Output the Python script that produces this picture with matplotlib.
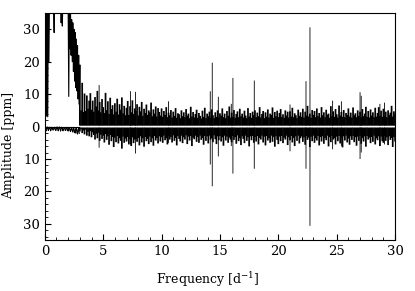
"""Amplitude spectrum with the mirrored residual spectrum below."""
import numpy as np
import matplotlib
matplotlib.use("Agg")
import matplotlib.pyplot as plt
from matplotlib.ticker import MultipleLocator, FuncFormatter

plt.rcParams['font.family'] = ['DejaVu Serif']
plt.rcParams['mathtext.fontset'] = 'dejavuserif'
plt.rcParams['font.size'] = 9.5

# low-frequency part (0 - 3 d^-1), step 0.05
lo_step = 0.05
lo_top = [40, 14, 40, 3.2, 40, 3.0, 40, 20, 40, 38,
          40, 40, 38, 40, 40, 36, 29, 40, 40, 40,
          40, 38, 40, 40, 40, 40, 40, 40, 32, 40,
          31, 40, 40, 40, 40, 40, 40, 38, 40, 40,
          36, 9.3, 38, 24, 36, 22, 33, 20, 32, 17,
          30, 14, 29, 12, 27, 11, 25, 8.5, 22, 7]
lo_bot = [0.2, 0.7, 1.3, 0.6, 0.1, 0.5, 1.2, 0.7, 0.2, 0.6,
          1.3, 0.8, 0.2, 0.4, 1.1, 0.9, 0.3, 0.2, 1.0, 1.2,
          0.4, 0.1, 0.7, 1.3, 0.6, 0.1, 0.6, 1.4, 0.7, 0.2,
          0.5, 1.3, 0.9, 0.3, 0.3, 1.2, 1.1, 0.4, 0.2, 1.1,
          1.4, 0.5, 0.3, 1.2, 1.5, 0.6, 0.4, 1.3, 1.7, 0.5,
          0.6, 1.6, 2.0, 0.7, 0.5, 1.9, 2.3, 0.8, 0.6, 2.1]

# noise band (3 - 30 d^-1), step 0.1
noise_start = 3.0
noise_step = 0.1
noise_top = [
    19.0, 5.0, 13.5, 4.5, 10.2, 4.8, 9.6, 5.5, 8.0, 10.3,
    5.2, 8.0, 4.6, 9.1, 6.2, 11.0, 5.0, 7.6, 4.4, 8.5,
    6.0, 4.2, 10.4, 5.1, 7.8, 3.9, 8.9, 5.4, 6.6, 3.8,
    7.2, 4.6, 8.6, 3.7, 6.9, 5.2, 9.0, 4.1, 6.4, 3.5,
    5.8, 7.9, 3.6, 6.3, 4.4, 8.1, 3.9, 5.6, 4.8, 6.9,
    3.4, 6.1, 4.7, 7.6, 3.3, 5.5, 4.2, 6.8, 3.6, 5.0,
    4.4, 7.4, 3.2, 5.3, 4.0, 6.2, 3.1, 5.7, 4.5, 3.4,
    5.6, 3.0, 4.8, 3.6, 6.0, 2.9, 4.3, 3.5, 5.1, 2.8,
    4.6, 3.3, 5.7, 2.7, 4.1, 3.8, 2.6, 5.0, 3.2, 4.4,
    2.9, 5.4, 3.4, 4.0, 2.6, 6.1, 3.1, 4.5, 2.8, 3.9,
    5.2, 2.7, 4.2, 3.3, 2.5, 4.9, 3.0, 5.8, 2.6, 4.0,
    3.2, 4.6, 2.8, 5.3, 3.5, 2.6, 4.4, 3.0, 5.0, 2.7,
    4.1, 3.4, 5.6, 2.9, 4.0, 2.6, 4.8, 3.3, 6.2, 2.8,
    4.3, 3.0, 5.1, 2.7, 3.9, 4.7, 2.9, 5.5, 3.2, 4.0,
    2.8, 4.9, 3.4, 2.6, 5.7, 3.1, 4.2, 2.7, 4.6, 3.5,
    5.0, 2.9, 4.3, 3.2, 6.0, 2.8, 3.9, 4.8, 2.6, 4.4,
    3.1, 5.3, 2.8, 4.0, 3.6, 5.9, 2.7, 4.5, 3.2, 4.9,
    2.9, 4.2, 5.4, 3.0, 3.8, 2.7, 5.0, 3.4, 4.6, 2.8,
    4.7, 3.1, 5.8, 2.9, 4.1, 3.5, 2.6, 5.2, 3.3, 4.4,
    3.0, 5.5, 2.8, 4.6, 3.4, 6.4, 3.1, 4.0, 2.7, 5.1,
    3.6, 4.8, 2.9, 5.6, 3.2, 4.2, 2.8, 6.0, 3.5, 4.4,
    2.9, 5.2, 3.7, 4.0, 2.7, 6.3, 3.3, 4.7, 3.0, 5.4,
    3.8, 2.8, 6.5, 3.4, 4.5, 3.0, 5.1, 2.9, 4.2, 3.6,
    5.6, 3.1, 4.3, 2.8, 5.9, 3.5, 4.1, 2.9, 5.0, 3.3,
    4.6, 2.9, 5.4, 3.2, 4.0, 6.1, 3.0, 4.8, 2.8, 5.3,
    3.4, 4.4, 2.9, 5.8, 3.1, 4.2, 6.0, 3.3, 4.9, 3.0,
    5.5, 3.2, 4.6, 2.9, 5.0, 3.6, 4.3, 6.4, 3.1, 4.7,
    3.9]
noise_bot = [
    1.5, 0.8, 2.0, 1.2, 2.4, 1.0, 2.8, 1.6, 3.0, 1.4,
    3.3, 1.8, 2.6, 4.0, 2.2, 3.6, 1.9, 4.4, 2.5, 3.8,
    2.8, 4.9, 2.3, 4.1, 3.0, 5.6, 2.6, 4.5, 3.2, 6.3,
    3.4, 4.8, 2.9, 5.2, 3.6, 4.4, 6.8, 3.1, 5.0, 3.7,
    4.6, 3.2, 5.5, 3.8, 6.0, 3.3, 5.1, 4.0, 3.9, 4.7,
    3.5, 5.8, 3.0, 4.9, 3.6, 6.2, 3.2, 4.5, 3.8, 5.4,
    3.1, 4.8, 3.6, 5.9, 2.9, 4.3, 3.5, 5.2, 3.0, 4.6,
    3.3, 5.0, 2.8, 4.2, 3.6, 5.5, 2.9, 4.0, 3.2, 4.9,
    2.7, 4.4, 3.5, 5.8, 2.9, 3.8, 4.6, 2.8, 5.1, 3.3,
    4.0, 2.7, 5.4, 3.1, 4.3, 2.9, 6.0, 3.4, 3.9, 2.8,
    4.7, 3.2, 5.0, 2.8, 4.1, 3.5, 5.6, 2.9, 4.4, 3.0,
    5.2, 2.8, 4.0, 3.6, 4.8, 2.7, 3.9, 5.4, 3.0, 4.2,
    2.9, 4.6, 3.3, 5.9, 2.8, 4.3, 3.1, 5.0, 3.4, 4.0,
    4.8, 2.9, 4.1, 3.2, 5.3, 2.7, 4.5, 3.6, 5.7, 3.0,
    3.8, 5.1, 2.8, 4.4, 3.3, 6.1, 3.0, 4.2, 2.9, 5.0,
    3.2, 4.6, 2.9, 5.5, 3.5, 4.0, 2.8, 4.9, 3.1, 5.8,
    2.9, 4.3, 3.6, 5.0, 2.8, 4.7, 3.2, 6.2, 3.0, 4.1,
    5.4, 3.1, 4.5, 2.9, 5.1, 3.4, 4.0, 2.8, 5.7, 3.3,
    4.2, 2.9, 4.9, 3.5, 6.0, 3.0, 4.4, 2.8, 5.2, 3.6,
    3.0, 4.7, 3.3, 5.6, 2.9, 4.1, 3.4, 6.3, 3.1, 4.5,
    2.8, 5.0, 3.6, 4.3, 2.9, 5.8, 3.2, 4.6, 3.0, 5.3,
    3.5, 4.2, 2.8, 6.1, 3.3, 4.8, 2.9, 4.0, 3.6, 5.5,
    3.1, 4.5, 2.9, 5.2, 3.4, 6.4, 3.0, 4.3, 2.8, 4.9,
    3.7, 5.6, 3.0, 4.1, 2.9, 4.8, 3.3, 5.9, 3.1, 4.4,
    2.8, 5.3, 3.5, 4.6, 3.0, 6.2, 2.9, 4.0, 3.4, 5.1,
    3.2, 4.7, 2.8, 5.5, 3.6, 4.2, 3.0, 6.0, 3.1, 4.5,
    5.0, 2.9, 4.4, 3.3, 5.7, 3.0, 4.1, 3.5, 6.3, 3.2,
    4.6]

# individual peaks
peak_freq = [4.65, 7.34, 7.77, 10.6, 14.17, 14.34, 14.86, 15.97, 16.11, 17.94,
             21.0, 22.37, 22.71, 24.65, 25.4, 27.0, 27.1, 28.7, 29.1]
peak_top = [12.8, 10.9, 10.7, 7.8, 10.9, 19.7, 9.2, 7.0, 15.0, 14.2,
            6.8, 14.0, 30.6, 8.0, 7.8, 10.6, 9.5, 7.0, 7.4]
peak_bot = [6.5, 5.5, 8.3, 5.0, 11.7, 18.4, 9.2, 6.0, 14.5, 13.0,
            7.6, 13.0, 30.6, 7.0, 6.0, 10.0, 8.0, 6.0, 5.5]

lo_freq = lo_step * np.arange(len(lo_top))
noise_freq = noise_start + noise_step * np.arange(len(noise_top))
gap = 0.3  # thin light seam along zero

fig = plt.figure(figsize=(4.15, 2.91), dpi=100)
ax = fig.add_axes([0.108, 0.175, 0.844, 0.78])

ax.hlines(0, 0, noise_start, color='k', lw=0.8)
ax.plot(lo_freq, lo_top, color='k', lw=0.8)
ax.plot(lo_freq, -np.array(lo_bot), color='k', lw=0.8)
ax.plot([lo_freq[-1], noise_freq[0]], [lo_top[-1], noise_top[0]], color='k', lw=0.8)
ax.vlines(noise_freq, gap, noise_top, color='k', lw=1.25, snap=False)
ax.vlines(noise_freq, -gap, -np.array(noise_bot), color='k', lw=1.25, snap=False)
ax.hlines(0, noise_start, 30, color='0.55', lw=0.6, linestyles=(0, (1.5, 1.5)))
ax.vlines(peak_freq, gap, peak_top, color='k', lw=0.6, snap=False)
ax.vlines(peak_freq, -gap, -np.array(peak_bot), color='k', lw=0.6, snap=False)

ax.set_xlim(0, 30)
ax.set_ylim(-35, 35)
ax.xaxis.set_major_locator(MultipleLocator(5))
ax.xaxis.set_minor_locator(MultipleLocator(1))
ax.yaxis.set_major_locator(MultipleLocator(10))
ax.yaxis.set_minor_locator(MultipleLocator(2))
ax.yaxis.set_major_formatter(FuncFormatter(lambda v, p: f"{abs(v):.0f}"))
ax.tick_params(which='both', direction='in', top=False, right=False)
ax.tick_params(which='major', length=4)
ax.tick_params(which='minor', length=2)

fig.text(0.5, 0.04, r"Frequency [d$^{-1}$]", ha='center', va='center', fontsize=9)
fig.text(0.02, 0.5, "Amplitude [ppm]", ha='center', va='center',
         rotation=90, fontsize=9)

fig.savefig("out.png", dpi=100)
